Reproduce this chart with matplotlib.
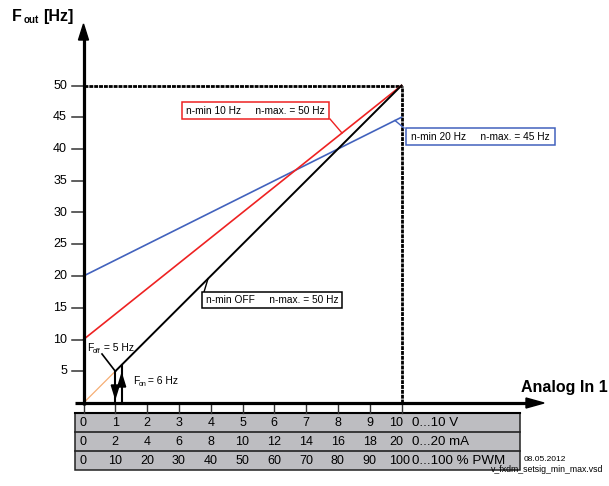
import numpy as np
import matplotlib
matplotlib.use("Agg")
import matplotlib.pyplot as plt
from matplotlib.patches import Rectangle, Polygon

plt.rcParams['font.family'] = ['Liberation Sans', 'DejaVu Sans']

# ---- data -------------------------------------------------------------
analog_v = [0, 1, 2, 3, 4, 5, 6, 7, 8, 9, 10]
row_v = ["0", "1", "2", "3", "4", "5", "6", "7", "8", "9", "10"]
row_ma = ["0", "2", "4", "6", "8", "10", "12", "14", "16", "18", "20"]
row_pwm = ["0", "10", "20", "30", "40", "50", "60", "70", "80", "90", "100"]
row_units = ["0...10 V", "0...20 mA", "0...100 % PWM"]
y_ticks = [5, 10, 15, 20, 25, 30, 35, 40, 45, 50]

# n-min 10 Hz / n-max 50 Hz
red_x = [0, 10]
red_y = [10, 50]
# n-min 20 Hz / n-max 45 Hz
blue_x = [0, 10]
blue_y = [20, 45]
# n-min OFF / n-max 50 Hz
black_x = [1, 10]
black_y = [5, 50]
# ramp below switch-off point
ramp_x = [0, 1]
ramp_y = [0, 5]
f_off = 5
f_on = 6
f_max = 50
x_max = 10

# ---- layout helpers (pixel -> data) ------------------------------------
W, H = 609, 486
PX0, PXU = 83.5, 31.8
PY0, PYU = 403.0, 6.35


def px(x):
    return (x - PX0) / PXU


def py(y):
    return (PY0 - y) / PYU


fig = plt.figure(figsize=(W / 100, H / 100), dpi=100)
ax = fig.add_axes([0, 0, 1, 1])
ax.set_xlim(px(0), px(W))
ax.set_ylim(py(H), py(0))
ax.axis('off')

BLUE = '#4262bd'
RED = '#ee2222'
ORANGE = '#f6ae74'
FRAME_LS = (0, (1.4, 0.35))

# ---- reference frame at 50 Hz / 10 V ----------------------------------
ax.plot([0, x_max], [f_max, f_max], color='black', lw=2.0,
        linestyle=FRAME_LS, zorder=3)
ax.plot([x_max, x_max], [0, f_max], color='black', lw=2.0,
        linestyle=FRAME_LS, zorder=3)

# ---- characteristic lines ---------------------------------------------
ax.plot(blue_x, blue_y, color=BLUE, lw=1.2, zorder=4)
ax.plot(red_x, red_y, color=RED, lw=1.2, zorder=4)
ax.plot(ramp_x, ramp_y, color=ORANGE, lw=0.9, zorder=4)
ax.plot(black_x, black_y, color='black', lw=1.4, zorder=5)

# ---- axes with arrows --------------------------------------------------
ax.plot([0, 0], [py(405), py(38)], color='black', lw=2.3,
        solid_capstyle='butt', zorder=6)
ax.add_patch(Polygon([(0, py(24)), (px(78.5), py(40)), (px(88.5), py(40))],
                     closed=True, color='black', zorder=6))
ax.plot([px(75), px(527)], [0, 0], color='black', lw=2.3,
        solid_capstyle='butt', zorder=6)
ax.add_patch(Polygon([(px(544), 0), (px(526), py(398)), (px(526), py(408))],
                     closed=True, color='black', zorder=6))

# y ticks and labels
for v in y_ticks:
    ax.plot([px(72), 0], [v, v], color='#333333', lw=1.1, zorder=5)
    ax.text(px(67), v, str(v), ha='right', va='center', fontsize=9)

# axis titles
ax.text(px(12), py(21), 'F', fontsize=11.5, fontweight='bold',
        ha='left', va='baseline')
ax.text(px(24), py(23), 'out', fontsize=7, fontweight='bold',
        ha='left', va='baseline')
ax.text(px(43), py(21), '[Hz]', fontsize=11.5, fontweight='bold',
        ha='left', va='baseline')
ax.text(px(521), py(392), 'Analog In 1', fontsize=11.5, fontweight='bold',
        ha='left', va='baseline')

# ---- scale table -------------------------------------------------------
tbl_top, tbl_bot = py(413), py(470)
row_edges = [py(413), py(432), py(451), py(470)]
ax.add_patch(Rectangle((px(75), tbl_bot), px(520) - px(75), tbl_top - tbl_bot,
                       facecolor='#bdbdc1', edgecolor='#222222', lw=1.1,
                       zorder=2))
for e in row_edges[1:-1]:
    ax.plot([px(75), px(520)], [e, e], color='#222222', lw=1.2, zorder=3)
ax.plot([px(75), px(520)], [tbl_top, tbl_top], color='black', lw=1.5, zorder=3)

for xv in analog_v:
    ax.plot([xv, xv], [0, tbl_top], color='#333333', lw=1.0, zorder=3)

for r, labels in enumerate([row_v, row_ma, row_pwm]):
    yc = (row_edges[r] + row_edges[r + 1]) / 2 - 0.15
    for xv, lab in zip(analog_v, labels):
        if xv == 0:
            ax.text(px(79), yc, lab, ha='left', va='center', fontsize=9,
                    zorder=4)
        elif xv == x_max:
            ax.text(px(389.5), yc, lab, ha='left', va='center', fontsize=9,
                    zorder=4)
        else:
            ax.text(xv, yc, lab, ha='center', va='center', fontsize=9,
                    zorder=4)
    ax.text(px(412), yc, row_units[r], ha='left', va='center', fontsize=9.6,
            zorder=4)

ax.text(px(524), py(461), '08.05.2012', fontsize=6, ha='left',
        va='baseline')
ax.text(px(491), py(472), 'v_fxdm_setsig_min_max.vsd', fontsize=6.3,
        ha='left', va='baseline')


# ---- line labels -------------------------------------------------------
def boxed(text, x0, y0, x1, y1, color):
    ax.add_patch(Rectangle((px(x0), py(y1)), px(x1) - px(x0), py(y0) - py(y1),
                           facecolor='white', edgecolor=color, lw=1.1,
                           zorder=7))
    ax.text(px(x0 + 4.5), (py(y0) + py(y1)) / 2, text, ha='left',
            va='center', fontsize=7.3, zorder=8)


# red
lx = px(342)
ax.plot([px(330), lx], [py(119), np.interp(lx, red_x, red_y)], color=RED,
        lw=1.0, zorder=6)
boxed('n-min 10 Hz     n-max. = 50 Hz', 182, 102, 329, 119, RED)

# blue
lx = px(395)
ax.plot([px(404), lx], [py(128), np.interp(lx, blue_x, blue_y)], color=BLUE,
        lw=1.0, zorder=6)
boxed('n-min 20 Hz     n-max. = 45 Hz', 406, 128, 555, 145, BLUE)

# black
lx = px(208)
ax.plot([px(204), lx], [py(292), np.interp(lx, black_x, black_y)],
        color='black', lw=1.0, zorder=6)
boxed('n-min OFF     n-max. = 50 Hz', 202, 292, 342, 308, 'black')

# ---- switch-off / switch-on hysteresis --------------------------------
x_off = np.interp(f_off, black_y, black_x)
x_on = np.interp(f_on, black_y, black_x)

ax.plot([px(102), x_off], [py(354), f_off], color='black', lw=1.2, zorder=6)
ax.plot([x_off, x_off], [f_off, 0], color='black', lw=1.5, zorder=6)
ax.add_patch(Polygon([(x_off, py(398)), (x_off - 4 / PXU, py(385)),
                      (x_off + 4 / PXU, py(385))], closed=True,
                     color='black', zorder=6))
ax.plot([x_on, x_on], [0, f_on], color='black', lw=1.5, zorder=6)
ax.add_patch(Polygon([(x_on, py(374)), (x_on - 4 / PXU, py(387)),
                      (x_on + 4 / PXU, py(387))], closed=True,
                     color='black', zorder=6))

ax.text(px(87), py(351), 'F', fontsize=7.5, ha='left', va='baseline')
ax.text(px(92.5), py(353), 'off', fontsize=5, ha='left', va='baseline')
ax.text(px(101), py(351), ' = %d Hz' % f_off, fontsize=7.5, ha='left',
        va='baseline')
ax.text(px(133), py(384), 'F', fontsize=7.5, ha='left', va='baseline')
ax.text(px(138.5), py(386), 'on', fontsize=5, ha='left', va='baseline')
ax.text(px(145), py(384), ' = %d Hz' % f_on, fontsize=7.5, ha='left',
        va='baseline')

fig.savefig('out.png', dpi=100)
